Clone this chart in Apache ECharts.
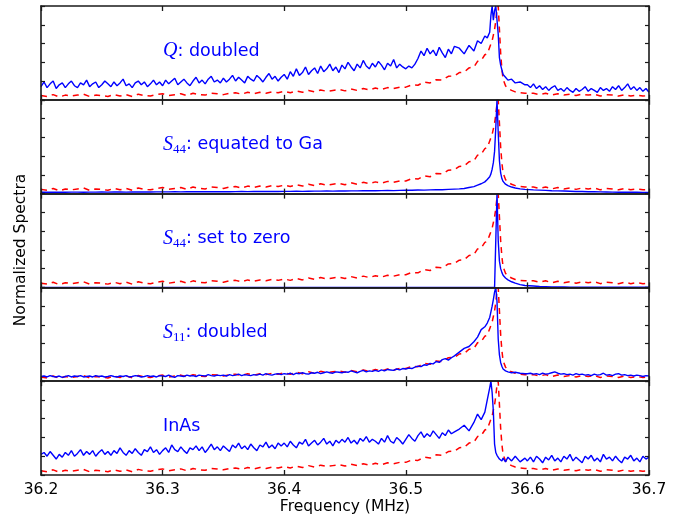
<!DOCTYPE html>
<html>
<head>
<meta charset="utf-8">
<script src="https://cdn.jsdelivr.net/npm/echarts@6/dist/echarts.min.js"></script>
<style>
html,body{margin:0;padding:0;background:#fff;}
#c{width:685px;height:519px;}
</style>
</head>
<body>
<div id="c"></div>
<script>
// Coarse frequency grid (MHz) for the smooth curves
const freq = [
36.200,36.205,36.210,36.215,36.220,36.225,36.230,36.235,36.240,36.245,
36.250,36.255,36.260,36.265,36.270,36.275,36.280,36.285,36.290,36.295,
36.300,36.305,36.310,36.315,36.320,36.325,36.330,36.335,36.340,36.345,
36.350,36.355,36.360,36.365,36.370,36.375,36.380,36.385,36.390,36.395,
36.400,36.405,36.410,36.415,36.420,36.425,36.430,36.435,36.440,36.445,
36.450,36.455,36.460,36.465,36.470,36.475,36.480,36.485,36.490,36.495,
36.500,36.505,36.510,36.515,36.520,36.525,36.530,36.535,36.540,
36.544,36.548,36.552,36.556,36.559,36.562,36.565,36.567,36.569,36.570,
36.571,36.572,36.573,36.574,36.575,36.576,36.577,36.578,36.579,36.580,
36.582,36.584,36.587,36.590,36.594,36.598,
36.605,36.610,36.615,36.620,36.625,36.630,36.635,36.640,36.645,36.650,
36.655,36.660,36.665,36.670,36.675,36.680,36.685,36.690,36.695,36.700
];

// Fine frequency grid (MHz) for the noisy curves
const freqFine = [
36.2000,36.2025,36.2050,36.2075,36.2100,36.2125,36.2150,36.2175,36.2200,36.2225,
36.2250,36.2275,36.2300,36.2325,36.2350,36.2375,36.2400,36.2425,36.2450,36.2475,
36.2500,36.2525,36.2550,36.2575,36.2600,36.2625,36.2650,36.2675,36.2700,36.2725,
36.2750,36.2775,36.2800,36.2825,36.2850,36.2875,36.2900,36.2925,36.2950,36.2975,
36.3000,36.3025,36.3050,36.3075,36.3100,36.3125,36.3150,36.3175,36.3200,36.3225,
36.3250,36.3275,36.3300,36.3325,36.3350,36.3375,36.3400,36.3425,36.3450,36.3475,
36.3500,36.3525,36.3550,36.3575,36.3600,36.3625,36.3650,36.3675,36.3700,36.3725,
36.3750,36.3775,36.3800,36.3825,36.3850,36.3875,36.3900,36.3925,36.3950,36.3975,
36.4000,36.4025,36.4050,36.4075,36.4100,36.4125,36.4150,36.4175,36.4200,36.4225,
36.4250,36.4275,36.4300,36.4325,36.4350,36.4375,36.4400,36.4425,36.4450,36.4475,
36.4500,36.4525,36.4550,36.4575,36.4600,36.4625,36.4650,36.4675,36.4700,36.4725,
36.4750,36.4775,36.4800,36.4825,36.4850,36.4875,36.4900,36.4925,36.4950,36.4975,
36.5000,36.5025,36.5050,36.5075,36.5100,36.5125,36.5150,36.5175,36.5200,36.5225,
36.5250,36.5275,36.5300,36.5325,36.5350,36.5375,36.5400,
36.544,36.548,36.552,36.556,36.559,36.562,36.565,36.567,36.569,36.570,
36.571,36.572,36.573,36.574,36.575,36.576,36.577,36.578,36.579,36.580,
36.582,36.584,36.587,36.590,36.594,36.598,
36.6000,36.6025,36.6050,36.6075,36.6100,36.6125,36.6150,36.6175,36.6200,36.6225,
36.6250,36.6275,36.6300,36.6325,36.6350,36.6375,36.6400,36.6425,36.6450,36.6475,
36.6500,36.6525,36.6550,36.6575,36.6600,36.6625,36.6650,36.6675,36.6700,36.6725,
36.6750,36.6775,36.6800,36.6825,36.6850,36.6875,36.6900,36.6925,36.6950,36.6975,
36.7000
];

// Reference spectrum (red dashed, same in every panel) on freq
const refSpectrum = [
0.045,0.035,0.055,0.03,0.05,0.04,0.05,0.06,0.035,0.05,
0.045,0.035,0.055,0.04,0.055,0.035,0.06,0.045,0.04,0.055,
0.065,0.045,0.055,0.065,0.045,0.07,0.055,0.05,0.07,0.065,
0.055,0.07,0.075,0.06,0.08,0.065,0.08,0.07,0.085,0.075,
0.09,0.075,0.095,0.08,0.1,0.085,0.105,0.09,0.1,0.11,
0.095,0.115,0.1,0.12,0.105,0.125,0.11,0.13,0.12,0.135,
0.135,0.16,0.155,0.19,0.18,0.215,0.21,0.25,0.255,
0.29,0.295,0.34,0.35,0.41,0.42,0.48,0.49,0.56,0.58,
0.63,0.69,0.75,0.84,0.96,1.0,0.75,0.5,0.33,0.22,
0.15,0.12,0.1,0.085,0.075,0.07,
0.07,0.055,0.07,0.05,0.065,0.05,0.06,0.045,0.06,0.05,
0.06,0.04,0.055,0.05,0.04,0.055,0.04,0.05,0.04,0.045
];

// Panel 1: Q doubled (on freqFine)
const blueQ = [
0.14,0.19,0.13,0.17,0.2,0.12,0.16,0.18,0.13,0.17,
0.2,0.15,0.13,0.18,0.16,0.21,0.14,0.17,0.19,0.13,
0.16,0.2,0.17,0.14,0.19,0.15,0.18,0.22,0.15,0.17,
0.13,0.18,0.2,0.16,0.19,0.14,0.17,0.21,0.16,0.19,
0.15,0.21,0.17,0.2,0.23,0.16,0.19,0.22,0.18,0.15,
0.2,0.24,0.18,0.21,0.17,0.22,0.25,0.19,0.21,0.18,
0.23,0.19,0.22,0.26,0.2,0.24,0.21,0.18,0.25,0.22,
0.2,0.26,0.23,0.19,0.24,0.28,0.22,0.25,0.2,0.24,
0.27,0.22,0.3,0.25,0.33,0.26,0.29,0.35,0.27,0.31,
0.34,0.28,0.36,0.3,0.33,0.38,0.31,0.35,0.29,0.37,
0.33,0.4,0.35,0.31,0.38,0.34,0.42,0.36,0.33,0.39,
0.35,0.41,0.37,0.32,0.39,0.36,0.43,0.34,0.38,0.35,
0.33,0.36,0.34,0.38,0.44,0.52,0.47,0.55,0.49,0.53,
0.47,0.56,0.5,0.45,0.54,0.49,0.57,
0.55,0.49,0.58,0.52,0.63,0.6,0.68,0.66,0.72,0.9,
1.0,0.85,0.95,1.0,0.98,0.7,0.45,0.37,0.32,0.27,
0.24,0.21,0.22,0.18,0.19,0.16,
0.16,0.13,0.17,0.12,0.15,0.11,0.14,0.1,0.13,0.15,
0.1,0.12,0.09,0.13,0.1,0.08,0.12,0.09,0.11,0.14,
0.09,0.12,0.1,0.08,0.13,0.1,0.12,0.09,0.14,0.11,
0.15,0.1,0.13,0.17,0.11,0.14,0.1,0.13,0.09,0.12,
0.08
];

// Panel 2: S44 equated to Ga (on freq)
const blueS44Ga = [
0.015,0.016,0.015,0.016,0.015,0.016,0.016,0.015,0.016,0.016,
0.017,0.016,0.017,0.017,0.016,0.017,0.018,0.017,0.017,0.018,
0.018,0.018,0.019,0.018,0.019,0.019,0.02,0.019,0.02,0.02,
0.021,0.02,0.021,0.022,0.021,0.022,0.022,0.023,0.022,0.023,
0.024,0.024,0.025,0.024,0.025,0.026,0.026,0.027,0.026,0.028,
0.028,0.029,0.029,0.03,0.031,0.03,0.032,0.033,0.032,0.034,
0.035,0.036,0.038,0.037,0.04,0.042,0.041,0.045,0.048,
0.05,0.055,0.065,0.075,0.09,0.105,0.125,0.15,0.18,0.21,
0.26,0.33,0.45,0.7,1.0,0.65,0.35,0.22,0.16,0.13,
0.1,0.085,0.07,0.06,0.05,0.045,
0.04,0.037,0.034,0.031,0.029,0.027,0.025,0.023,0.022,0.02,
0.019,0.018,0.017,0.016,0.015,0.015,0.014,0.014,0.013,0.013
];

// Panel 3: S44 set to zero (on freq)
const blueS44Zero = [
0,0,0,0,0,0,0,0,0,0,
0,0,0,0,0,0,0,0,0,0,
0,0,0,0,0,0,0,0,0,0,
0,0,0,0,0,0,0,0,0,0,
0,0,0,0,0,0,0,0,0,0,
0,0,0,0,0,0,0,0,0,0,
0,0,0,0,0,0,0,0,0,
0,0,0,0,0,0,0,0,0,0,
0,0,0,0,1.0,0.5,0.28,0.2,0.16,0.13,
0.1,0.08,0.06,0.045,0.03,0.02,
0.015,0.01,0.008,0.006,0.005,0.004,0.003,0.003,0.002,0.002,
0.002,0.002,0.001,0.001,0.001,0.001,0.001,0.001,0.001,0.001
];

// Panel 4: S11 doubled (on freqFine)
const blueS11 = [
0.05,0.055,0.045,0.06,0.05,0.045,0.055,0.04,0.05,0.06,
0.045,0.055,0.05,0.06,0.045,0.05,0.055,0.045,0.06,0.05,
0.055,0.045,0.05,0.06,0.05,0.045,0.055,0.05,0.06,0.045,
0.05,0.06,0.055,0.045,0.05,0.06,0.05,0.055,0.045,0.06,
0.055,0.05,0.065,0.05,0.04,0.06,0.055,0.05,0.065,0.055,
0.06,0.05,0.065,0.06,0.055,0.07,0.06,0.055,0.065,0.06,
0.065,0.055,0.07,0.06,0.065,0.075,0.06,0.07,0.065,0.06,
0.07,0.065,0.075,0.065,0.08,0.07,0.065,0.075,0.08,0.07,
0.08,0.075,0.085,0.07,0.085,0.08,0.09,0.08,0.075,0.09,
0.085,0.095,0.08,0.09,0.1,0.09,0.085,0.1,0.095,0.09,
0.1,0.095,0.11,0.1,0.09,0.105,0.115,0.1,0.11,0.105,
0.115,0.105,0.12,0.11,0.125,0.12,0.115,0.13,0.12,0.135,
0.13,0.14,0.135,0.15,0.16,0.155,0.175,0.17,0.19,0.185,
0.21,0.2,0.23,0.24,0.225,0.25,0.27,
0.31,0.35,0.37,0.42,0.47,0.55,0.58,0.62,0.68,0.74,
0.8,0.87,0.95,1.0,0.85,0.45,0.28,0.2,0.16,0.13,
0.11,0.1,0.09,0.095,0.085,0.08,
0.08,0.085,0.075,0.08,0.07,0.085,0.075,0.08,0.09,0.1,
0.085,0.075,0.08,0.07,0.075,0.065,0.08,0.07,0.075,0.065,
0.07,0.06,0.075,0.065,0.07,0.085,0.065,0.07,0.06,0.075,
0.08,0.065,0.07,0.06,0.065,0.055,0.065,0.06,0.05,0.06,
0.055
];

// Panel 5: InAs (on freqFine)
const blueInAs = [
0.22,0.24,0.2,0.25,0.21,0.17,0.22,0.19,0.24,0.21,
0.26,0.2,0.23,0.27,0.21,0.25,0.22,0.26,0.2,0.24,
0.27,0.22,0.25,0.21,0.26,0.23,0.29,0.24,0.21,0.26,
0.23,0.28,0.24,0.21,0.27,0.25,0.3,0.24,0.27,0.22,
0.26,0.29,0.24,0.32,0.27,0.25,0.3,0.26,0.23,0.29,
0.27,0.31,0.26,0.3,0.24,0.28,0.33,0.27,0.3,0.26,
0.31,0.28,0.25,0.32,0.29,0.34,0.28,0.31,0.27,0.33,
0.29,0.26,0.32,0.3,0.35,0.29,0.32,0.28,0.34,0.31,
0.34,0.3,0.36,0.32,0.29,0.35,0.33,0.38,0.31,0.34,
0.37,0.32,0.35,0.39,0.33,0.36,0.31,0.37,0.34,0.38,
0.35,0.4,0.34,0.37,0.33,0.39,0.36,0.41,0.35,0.38,
0.36,0.33,0.39,0.35,0.42,0.36,0.34,0.4,0.37,0.33,
0.38,0.43,0.39,0.36,0.42,0.46,0.4,0.44,0.41,0.47,
0.43,0.39,0.45,0.42,0.48,0.44,0.46,
0.49,0.53,0.47,0.56,0.65,0.59,0.67,0.8,0.93,1.0,
0.88,0.68,0.33,0.24,0.21,0.2,0.17,0.19,0.15,0.18,
0.14,0.19,0.15,0.2,0.14,0.18,
0.15,0.19,0.14,0.2,0.17,0.13,0.19,0.16,0.21,0.15,
0.18,0.14,0.2,0.17,0.22,0.15,0.19,0.16,0.13,0.2,
0.17,0.21,0.15,0.18,0.14,0.22,0.17,0.19,0.15,0.2,
0.16,0.13,0.19,0.17,0.21,0.15,0.18,0.14,0.2,0.17,
0.19
];

const panelSeries = [blueQ, blueS44Ga, blueS44Zero, blueS11, blueInAs];
const panelGrids = [freqFine, freq, freq, freqFine, freqFine];
// Panel labels: [math symbol, subscript, rest]
const panelLabelMath = ['Q', 'S', 'S', 'S', ''];
const panelLabelSub = ['', '44', '44', '11', ''];
const panelLabelText = [': doubled', ': equated to Ga', ': set to zero', ': doubled', 'InAs'];
const xTickLabels = ['36.2','36.3','36.4','36.5','36.6','36.7'];
const xMin = 36.2, xMax = 36.7, xStep = 0.1;

const BLUE = '#0000ff', RED = '#ff0000', AX = '#1a1a1a';
const PLOT_L = 41, PLOT_R = 649, PLOT_T = 6, PLOT_B = 475;
const nP = panelSeries.length;
const PH = (PLOT_B - PLOT_T) / nP;

const grids = [], xAxes = [], yAxes = [], series = [], graphics = [];
const pair = (xs, vals) => xs.map((f, i) => [f, vals[i]]);

for (let i = 0; i < nP; i++) {
  const top = PLOT_T + i * PH;
  grids.push({ left: PLOT_L, width: PLOT_R - PLOT_L, top: top, height: PH, containLabel: false });
  const common = {
    type: 'value', gridIndex: i, min: xMin, max: xMax, interval: xStep, z: 5,
    axisLine: { show: true, onZero: false, lineStyle: { color: AX, width: 1.6 } },
    axisTick: { show: true, inside: true, length: 5, lineStyle: { color: AX, width: 1.3 } },
    splitLine: { show: false }
  };
  xAxes.push(Object.assign({}, common, {
    position: 'bottom',
    axisLabel: {
      show: i === nP - 1, color: '#000', fontSize: 15.5, fontFamily: 'DejaVu Sans', margin: 7,
      showMinLabel: true, showMaxLabel: true, hideOverlap: false,
      formatter: v => { const k = Math.round((v - xMin) / xStep); return xTickLabels[k] || ''; }
    }
  }));
  xAxes.push(Object.assign({}, common, { position: 'top', axisLabel: { show: false } }));
  const ycommon = {
    type: 'value', gridIndex: i, min: 0, max: 1, interval: 0.2, z: 5,
    axisLine: { show: true, onZero: false, lineStyle: { color: AX, width: 1.6 } },
    axisTick: { show: true, inside: true, length: 4, lineStyle: { color: AX, width: 1.2 } },
    axisLabel: { show: false }, splitLine: { show: false }
  };
  yAxes.push(Object.assign({}, ycommon, { position: 'left' }));
  yAxes.push(Object.assign({}, ycommon, { position: 'right' }));

  series.push({
    type: 'line', xAxisIndex: 2 * i, yAxisIndex: 2 * i, data: pair(freq, refSpectrum),
    showSymbol: false, symbol: 'none', clip: true, z: 2,
    lineStyle: { color: RED, width: 1.5, type: [6, 5] }
  });
  series.push({
    type: 'line', xAxisIndex: 2 * i, yAxisIndex: 2 * i, data: pair(panelGrids[i], panelSeries[i]),
    showSymbol: false, symbol: 'none', clip: true, z: 3,
    lineStyle: { color: BLUE, width: 1.4 }
  });

  let txt = '';
  if (panelLabelMath[i]) txt += '{m|' + panelLabelMath[i] + '}';
  if (panelLabelSub[i]) txt += '{s|' + panelLabelSub[i] + '}';
  txt += '{t|' + panelLabelText[i] + '}';
  graphics.push({
    type: 'text', x: 163, y: top + 45, z: 10,
    style: {
      text: txt, verticalAlign: 'middle', align: 'left',
      rich: {
        m: { fontFamily: 'Liberation Serif', fontStyle: 'italic', fontSize: 20, fill: BLUE },
        s: { fontFamily: 'Liberation Serif', fontSize: 13, fill: BLUE, padding: [10, 0, 0, 0] },
        t: { fontFamily: 'DejaVu Sans', fontSize: 17.5, fill: BLUE }
      }
    }
  });
}

graphics.push({
  type: 'text', x: 345, y: 507, z: 10,
  style: { text: 'Frequency (MHz)', fontFamily: 'DejaVu Sans', fontSize: 15.5, fill: '#000', align: 'center', verticalAlign: 'middle' }
});
graphics.push({
  type: 'text', x: 21, y: 250, rotation: Math.PI / 2, z: 10,
  style: { text: 'Normalized Spectra', fontFamily: 'DejaVu Sans', fontSize: 15.5, fill: '#000', align: 'center', verticalAlign: 'middle' }
});

const chart = echarts.init(document.getElementById('c'), null, { renderer: 'canvas' });
chart.setOption({
  animation: false,
  backgroundColor: '#fff',
  grid: grids, xAxis: xAxes, yAxis: yAxes, series: series, graphic: graphics
});
</script>
</body>
</html>
